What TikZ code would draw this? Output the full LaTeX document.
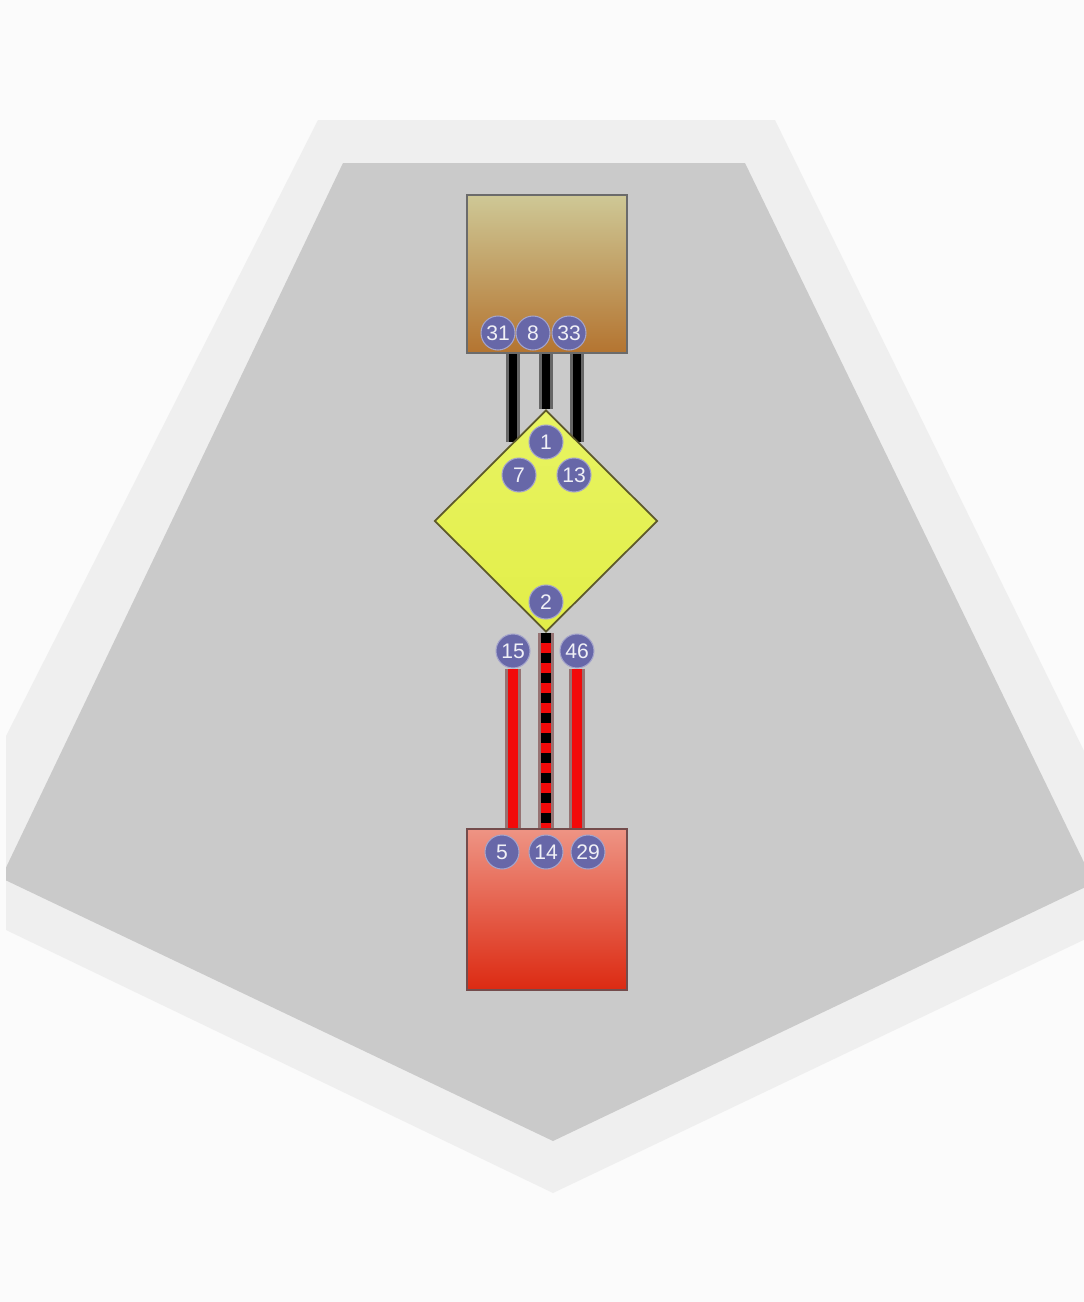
\documentclass[tikz,border=0pt]{standalone}
\usepackage{fontspec}
\setsansfont{Liberation Sans}
\usetikzlibrary{shapes.geometric,backgrounds}

\definecolor{paper}{HTML}{FBFBFB}
\definecolor{rim}{HTML}{EFEFEF}
\definecolor{field}{HTML}{CACACA}
\definecolor{badgeblue}{HTML}{6767A8}
\definecolor{khaki}{HTML}{CEC896}
\definecolor{rust}{HTML}{B47430}
\definecolor{salmon}{HTML}{EE9484}
\definecolor{brick}{HTML}{DC2A12}
\definecolor{lemon}{HTML}{E8F462}
\definecolor{lime}{HTML}{E2EE48}
\definecolor{wirered}{HTML}{F20A0A}

\tikzset{
  badge/.style={circle, fill=badgeblue, draw=badgeblue!60!white, line width=0.6pt,
    inner sep=0pt, minimum size=0.68cm, text=white!90!badgeblue,
    font=\sffamily\fontsize{12}{12}\selectfont},
  blackwire/.style={draw=black, line width=5pt, preaction={draw=black!60, line width=8pt}},
  redwire/.style={draw=wirered, line width=5.5pt, preaction={draw=red!25!black!55, line width=9pt}},
  mixwire/.style={redwire, postaction={draw=black, line width=5.5pt, dash pattern=on 5.7pt off 5.7pt}}
}

\begin{document}
\begin{tikzpicture}[x=0.02cm,y=-0.02cm]
  \useasboundingbox (0,0) rectangle (1084,1302);
  % boxes and gate
  \node[draw=black!58, line width=1.6pt, top color=khaki, bottom color=rust,
    minimum width=3.2cm, minimum height=3.16cm] (top) at (547,274) {};
  \node[draw=black!45!red!40!black!70, line width=1.6pt, top color=salmon, bottom color=brick,
    minimum width=3.2cm, minimum height=3.22cm] (bot) at (547,909.5) {};
  \node[diamond, draw=black!45!olive, line width=1pt, top color=lemon, bottom color=lime,
    minimum width=4.46cm, minimum height=4.44cm, inner sep=0pt] (gate) at (546,521) {};
  \foreach \n/\x/\y in {31/498/333, 8/533/333, 33/569/333, 1/546/442, 7/519/475,
      13/574/475, 2/546/602, 15/513/651, 46/577/651, 5/502/852, 14/546/852, 29/588/852}
    \node[badge] (b\n) at (\x,\y) {\n};
  \begin{pgfonlayer}{background}
    \fill[paper] (0,0) rectangle (1084,1302);
    \begin{scope}
      \clip (6,0) rectangle (1084,1302);
      \fill[rim] (318,120) -- (775,120) -- (1159,904) -- (553,1193) -- (-73,892) -- cycle;
      \fill[field] (343,163) -- (745,163) -- (1094,883) -- (553,1141) -- (1,878) -- cycle;
    \end{scope}
    % wires
    \draw[blackwire] (top.south -| b15) -- (b15 |- b1);
    \draw[blackwire] (top.south -| gate.north) -- (gate.north);
    \draw[blackwire] (top.south -| b46) -- (b46 |- b1);
    \draw[redwire] (b15) -- (b15 |- bot.north);
    \draw[mixwire] (gate.south) -- (gate.south |- bot.north);
    \draw[redwire] (b46) -- (b46 |- bot.north);
  \end{pgfonlayer}
\end{tikzpicture}
\end{document}
